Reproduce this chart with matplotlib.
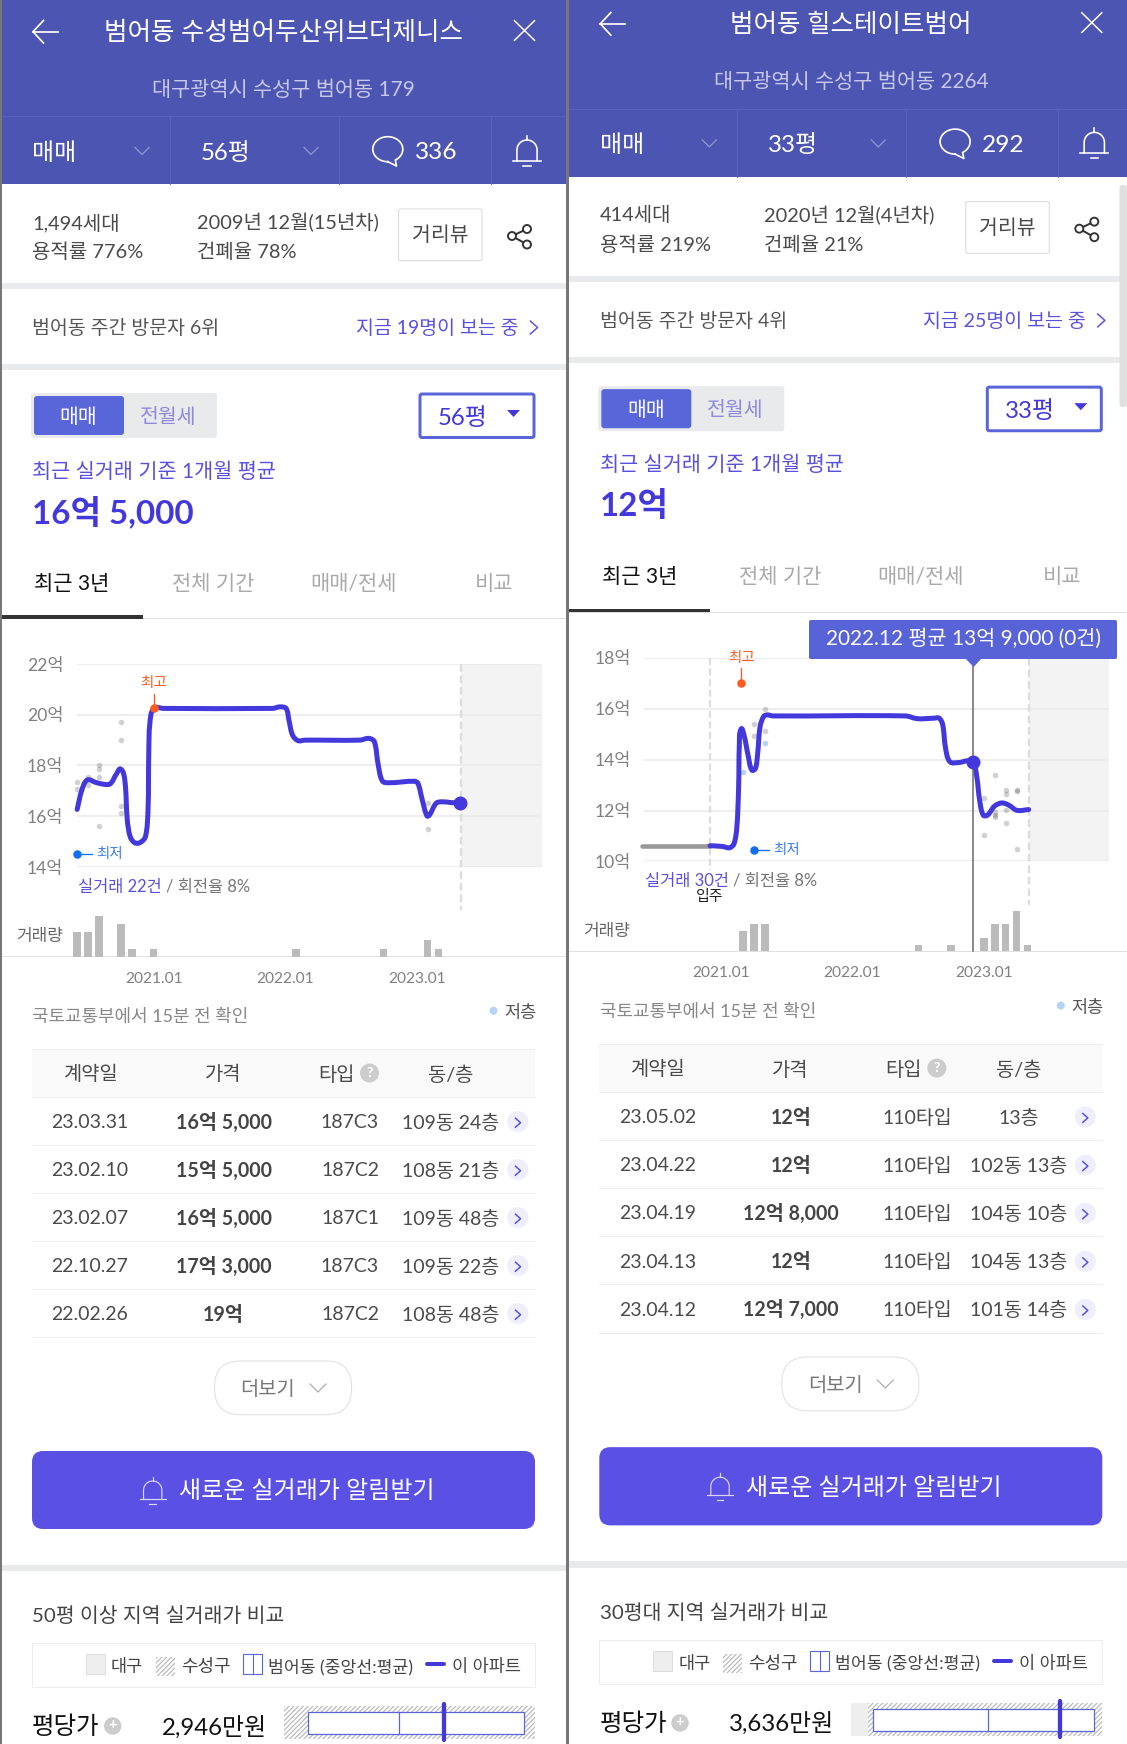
import numpy as np
import matplotlib
matplotlib.use("Agg")
import matplotlib.pyplot as plt
from matplotlib.patches import Rectangle, FancyBboxPatch, Circle, Polygon, PathPatch
from matplotlib.path import Path

FAM = ['Lato', 'Noto Sans CJK KR', 'DejaVu Sans']
plt.rcParams['font.family'] = FAM
plt.rcParams['hatch.linewidth'] = 0.9

W, H = 1127, 1744

# ---- panel 1 data ----
months_a = [-7.0, -6.57, -6.07, -5.34, -4.58, -3.98, -3.42, -3.02, -2.65, -2.42, -2.16, -1.76, -1.26, -0.76,
            -0.53, -0.46, -0.36, 0, 0.9, 10.85, 11.51, 12.08, 12.34, 12.67, 13.17, 13.84, 18.81, 19.64, 20.14,
            20.47, 20.87, 21.47, 23.79, 24.12, 24.52, 24.95, 25.18, 25.78, 26.28, 27.11, 27.97]
prices_a = [16.27, 17.03, 17.43, 17.34, 17.26, 17.28, 17.66, 17.86, 17.43, 15.85, 15.2, 14.96, 14.96, 15.2,
            16.25, 18.48, 19.66, 20.25, 20.25, 20.25, 20.31, 20.25, 19.79, 19.2, 18.98, 19.0, 19.0, 19.07, 18.94,
            18.09, 17.39, 17.32, 17.38, 17.3, 16.64, 16.01, 16.05, 16.51, 16.57, 16.54, 16.52]
deal_x_a = [-7, -7, -6, -6, -5, -5, -5, -5, -3, -3, -3, -3, 25, 25]
deal_y_a = [17.35, 17.06, 17.53, 17.23, 18.0, 17.87, 17.53, 15.63, 19.71, 19.0, 16.4, 16.11, 16.51, 15.51]
vol_x_a = [-7, -6, -5, -3, -2, 0, 13, 21, 25, 26]
vol_n_a = [3, 3, 5, 4, 1, 1, 1, 1, 2, 1]
yticks_a = [14, 16, 18, 20, 22]
rows_a = [("23.03.31", "16억 5,000", "187C3", "109동 24층"),
          ("23.02.10", "15억 5,000", "187C2", "108동 21층"),
          ("23.02.07", "16억 5,000", "187C1", "109동 48층"),
          ("22.10.27", "17억 3,000", "187C3", "109동 22층"),
          ("22.02.26", "19억", "187C2", "108동 48층")]

# ---- panel 2 data ----
months_b = [-1.01, 0.13, 0.78, 1.18, 1.44, 1.6, 1.67, 1.83, 2.09, 2.49, 2.81, 3.14, 3.34, 3.56, 3.89, 4.22, 4.71,
            16.81, 17.95, 19.42, 19.92, 20.24, 20.5, 20.9, 21.71, 22.53, 23.02, 23.35, 23.61, 23.94, 24.33, 24.98,
            25.64, 26.29, 27.01, 28.09]
prices_b = [10.62, 10.59, 10.54, 10.7, 11.36, 12.93, 14.64, 15.21, 14.97, 14.12, 13.59, 13.66, 14.25, 15.3, 15.7,
            15.76, 15.72, 15.72, 15.61, 15.63, 15.63, 15.37, 14.45, 13.92, 13.89, 13.96, 13.92, 13.33, 12.41, 11.82,
            11.82, 12.18, 12.3, 12.21, 12.01, 12.04]
pre_x_b = [-7.2, -1.01]
pre_y_b = [10.62, 10.62]
deal_x_b = [4, 3, 4, 3, 25, 24, 26, 26, 27, 27, 25, 25, 26, 26, 24, 27, 25]
deal_y_b = [16.01, 15.42, 15.13, 14.95, 13.41, 12.51, 12.8, 12.64, 12.8, 12.76, 11.95, 11.82, 12.04, 11.5, 11.03,
            10.49, 11.75]
low_x_b = [4, 2]
low_y_b = [14.64, 13.53]
vol_x_b = [2, 3, 4, 18, 21, 24, 25, 26, 27, 28]
vol_n_b = [3, 4, 4, 1, 1, 2, 4, 4, 6, 1]
yticks_b = [10, 12, 14, 16, 18]
rows_b = [("23.05.02", "12억", "110타입", "13층"),
          ("23.04.22", "12억", "110타입", "102동 13층"),
          ("23.04.19", "12억 8,000", "110타입", "104동 10층"),
          ("23.04.13", "12억", "110타입", "104동 13층"),
          ("23.04.12", "12억 7,000", "110타입", "101동 14층")]

xtick_months = [0, 12, 24]
xtick_labels = ["2021.01", "2022.01", "2023.01"]

HEAD = '#4C55B1'
INK = '#4338DB'
LINK = '#5A50E0'
BTN = '#5966DA'
TXT = '#4a4a4a'

fig = plt.figure(figsize=(W / 100, H / 100), dpi=100, facecolor='white')
ui = fig.add_axes([0, 0, 1, 1], zorder=0)
ui.set_xlim(0, W)
ui.set_ylim(H, 0)
ui.axis('off')


def fs(px):
    return px * 0.72


def lw(px):
    return px * 0.72


def bell(cx, top, bot, color, width=1.5, z=2):
    w = (bot - top) * 0.5
    base = bot - 5
    dome = top + 4
    t = np.linspace(np.pi, 2 * np.pi, 40)
    rx = w * 0.68
    xs = np.r_[cx - rx, cx + rx * np.cos(t), cx + rx]
    ys = np.r_[base, dome + rx * 1.0 + rx * np.sin(t), base]
    ui.plot(xs, ys, color=color, lw=lw(width), zorder=z)
    ui.plot([cx - w * 0.95, cx + w * 0.95], [base, base], color=color, lw=lw(width), zorder=z)
    ui.plot([cx - w * 0.25, cx + w * 0.25], [bot, bot], color=color, lw=lw(width), zorder=z)
    ui.plot([cx, cx], [top, dome], color=color, lw=lw(width), zorder=z)


def chevron_down(x, y, c, s=7, width=1.3):
    ui.plot([x - s, x, x + s], [y - s * .5, y + s * .5, y - s * .5], color=c, lw=lw(width), zorder=2)


def chevron_right(x, y, c, s=4, width=1.3, k=1.8):
    ui.plot([x - s * .9, x + s * .9, x - s * .9], [y - s * k, y, y + s * k], color=c, lw=lw(width), zorder=3)


def smooth_path(xs, ys, sx=10.95, sy=25.4):
    """Bezier curve through the read-off points; no extra values are made up."""
    p = np.column_stack([np.asarray(xs) * sx, np.asarray(ys) * sy])
    n = len(p)
    tan = np.zeros_like(p)
    for i in range(n):
        d = p[min(i + 1, n - 1)] - p[max(i - 1, 0)]
        tan[i] = d / max(np.hypot(*d), 1e-6)
    verts, codes = [p[0]], [Path.MOVETO]
    for i in range(n - 1):
        L = np.hypot(*(p[i + 1] - p[i])) / 3
        verts += [p[i] + tan[i] * L, p[i + 1] - tan[i + 1] * L, p[i + 1]]
        codes += [Path.CURVE4] * 3
    v = np.array(verts) / [sx, sy]
    return Path(v, codes)


def panel(dx, yf, right, title, addr, size, comments, info, visitors, watching, avg, type_x, rows,
          compare_title, pyeong, bar, months, prices, deal_x, deal_y, vol_x, vol_n, yticks,
          hi, lo, deals_txt, low_x=(), low_y=()):
    X = lambda x: x + dx

    def T(x, y, s, px, color=TXT, ha='left', weight='normal', **k):
        xx = x - 1 if ha == 'left' else x
        ui.text(X(xx), yf(y + 1.8), s, fontsize=fs(px), color=color, ha=ha, va='center', fontweight=weight, **k)

    def R(x0, y0, x1, y1, fc, ec='none', l=0, z=1, **k):
        ui.add_patch(Rectangle((X(x0), yf(y0)), x1 - x0, yf(y1) - yf(y0), facecolor=fc, edgecolor=ec, linewidth=l,
                               zorder=z, **k))

    def RR(x0, y0, x1, y1, fc, ec='none', l=0, r=3, z=1):
        ui.add_patch(FancyBboxPatch((X(x0), yf(y0)), x1 - x0, yf(y1) - yf(y0),
                                    boxstyle=f"round,pad=0,rounding_size={r}", facecolor=fc, edgecolor=ec, linewidth=l,
                                    zorder=z))

    rgt = right - dx
    # header
    R(2, -20, rgt, 184, HEAD)
    ui.plot([X(2), X(rgt)], [yf(116.5)] * 2, color='#5A62B9', lw=0.7)
    for vx in (170, 339, 490.5):
        ui.plot([X(vx)] * 2, [yf(116.5), yf(184)], color='#5A62B9', lw=0.7)
    ui.plot([X(33), X(58)], [yf(31.7)] * 2, color='white', lw=lw(1.7))
    ui.plot([X(43.5), X(33), X(43.5)], [yf(20.5), yf(31.7), yf(43)], color='white', lw=lw(1.7))
    ui.plot([X(514.5), X(534.5)], [yf(20.7), yf(40.3)], color='white', lw=lw(1.5))
    ui.plot([X(514.5), X(534.5)], [yf(40.3), yf(20.7)], color='white', lw=lw(1.5))
    T(283, 30.5, title, 25.5, 'white', ha='center')
    T(283.6, 88, addr, 20.8, '#C6C9E9', ha='center')
    T(33.5, 151, "매매", 24, 'white')
    chevron_down(X(142), yf(151), '#9096D2')
    T(202, 151, size, 24, 'white')
    chevron_down(X(311), yf(151), '#9096D2')
    t = np.radians(np.linspace(90, 420, 70))
    bx = X(387.8) + 15 * np.cos(t)
    by = yf(149.2) + 12.5 * np.sin(t)
    ui.plot(np.r_[bx, X(396.5), bx[0]], np.r_[by, yf(166), by[0]], color='white', lw=lw(1.7))
    T(416, 151, comments, 24.5, 'white')
    bell(X(527), yf(136), yf(165.7), 'white', 1.6)

    # info row
    T(33.5, 221, info[0], 20)
    T(33.5, 250, info[1], 20)
    T(198, 221, info[2], 20)
    T(198, 250, info[3], 20)
    RR(398.5, 209, 482, 260.7, 'white', '#dcdcdc', 0.8, 2)
    T(440, 233, "거리뷰", 20.5, ha='center')
    nodes = [(527, 229), (512, 236), (527, 244.5)]
    ui.plot([X(n[0]) for n in nodes], [yf(n[1]) for n in nodes], color='#333', lw=lw(2), zorder=2)
    for n in nodes:
        ui.add_patch(Circle((X(n[0]), yf(n[1])), 4, fc='white', ec='#333', lw=lw(1.9), zorder=3))
    R(2, 283, rgt, 289, '#E9EAEC')

    T(33.5, 326.5, visitors, 19.5, '#555')
    T(357, 326.5, watching, 19.5, LINK)
    chevron_right(X(534), yf(327.5), LINK, 4, 1.5, 1.6)
    R(2, 364, rgt, 370, '#E9EAEC')

    # selector
    RR(31, 393, 217, 438, '#E9EAEC', r=3)
    RR(34, 396, 124, 435, BTN, r=3, z=2)
    T(78.5, 414.5, "매매", 20.5, 'white', ha='center', zorder=3)
    T(168.4, 414.5, "전월세", 20.5, '#8D8ADB', ha='center', zorder=3)
    RR(420, 394, 534, 437.5, 'white', BTN, lw(3), 2)
    T(462.5, 416, size, 24, INK, ha='center', zorder=3)
    ui.add_patch(Polygon([(X(507), yf(410)), (X(520), yf(410)), (X(513.5), yf(417))], fc=INK, ec='none', zorder=3))
    T(33.5, 470, "최근 실거래 기준 1개월 평균", 20.8, LINK)
    T(33.5, 510.5, avg, 33.2, INK, weight='bold')

    # tabs
    T(72, 582, "최근 3년", 21, '#111', ha='center')
    T(212.7, 582, "전체 기간", 21, '#aaa', ha='center')
    T(353.5, 582, "매매/전세", 21, '#aaa', ha='center')
    T(494.5, 582, "비교", 21, '#aaa', ha='center')
    R(2, 618, rgt, 618.8, '#dddddd')
    R(2, 615, 143, 618.5, '#333333', z=2)

    # ---- chart ----
    x0, x1 = X(77), X(542)
    y_top, y_bot = yf(664), yf(867)
    px_per_month = 10.95
    zero_px = X(153.8)
    xlim = ((x0 - zero_px) / px_per_month, (x1 - zero_px) / px_per_month)
    ax = fig.add_axes([x0 / W, 1 - y_bot / H, (x1 - x0) / W, (y_bot - y_top) / H], zorder=2)
    ax.patch.set_alpha(0)
    ax.set_xlim(*xlim)
    ax.set_ylim(yticks[0], yticks[-1])
    for s in ax.spines.values():
        s.set_visible(False)
    ax.set_xticks([])
    ax.set_yticks(yticks)
    ax.set_yticklabels([f"{v}억" for v in yticks], fontsize=fs(17.5), color='#808080')
    ax.tick_params(axis='y', length=0, pad=fs(13.5))
    ax.grid(axis='y', color='#ebebeb', lw=lw(1.6))
    ax.set_axisbelow(True)
    ax.axvspan(28.1, xlim[1], color='#f3f3f3', lw=0, zorder=0)
    frac = lambda py: (y_bot - yf(py)) / (y_bot - y_top)
    xtf = ax.get_xaxis_transform()
    ax.scatter(deal_x, deal_y, s=fs(5.6) ** 2, color='#000000', alpha=.18, lw=0, zorder=3, clip_on=False)
    if len(low_x):
        ax.scatter(low_x, low_y, s=fs(5.6) ** 2, color='#B8D4F5', lw=0, zorder=3)

    ax_v = fig.add_axes([x0 / W, 1 - yf(956.7) / H, (x1 - x0) / W, 40.5 / H], zorder=1)
    ax_v.patch.set_alpha(0)
    ax_v.set_xlim(*xlim)
    ax_v.set_ylim(0, max(vol_n))
    ax_v.bar(vol_x, vol_n, width=0.667, color='#BBBBBB', lw=0, clip_on=False)
    for s in ax_v.spines.values():
        s.set_visible(False)
    ax_v.set_yticks([])
    ax_v.set_xticks(xtick_months)
    ax_v.set_xticklabels(xtick_labels, fontsize=fs(15.5), color='#808080')
    ax_v.tick_params(axis='x', length=0, pad=fs(15))

    ax.plot([28.1, 28.1], [frac(664), frac(910)], transform=xtf, clip_on=False, color='#dddddd', lw=lw(2.4),
            dashes=(3.2, 1.6), zorder=2)

    R(2, 956, rgt, 957.4, '#e0e0e0')
    T(63, 934.5, "거래량", 17, '#666', ha='right')

    ax.add_patch(PathPatch(smooth_path(months, prices), fc='none', ec=INK, lw=lw(5), capstyle='round',
                           joinstyle='round', zorder=5, clip_on=False))
    # highest and lowest markers
    hx, hy, hstem, hlabel = hi
    ax.plot([hx, hx], [frac(hstem), (hy - yticks[0]) / (yticks[-1] - yticks[0])], transform=xtf, color='#FF5A1F',
            lw=lw(1.3), zorder=5)
    ax.plot([hx], [hy], 'o', color='#FF5A1F', ms=fs(8.5), mew=0, zorder=6, clip_on=False)
    T(hlabel[0], hlabel[1], "최고", 14.5, '#FF5A1F', ha='center')
    lx, ly, lline, ltext = lo
    ax.plot([lx, lline], [ly, ly], color='#1170F0', lw=lw(1.3), zorder=5, clip_on=False)
    ax.plot([lx], [ly], 'o', color='#1170F0', ms=fs(8.5), mew=0, zorder=6, clip_on=False)
    T(ltext[0], ltext[1], "최저", 14.5, '#3F7FEF')
    # last-deal summary
    d1 = ui.text(X(78), yf(886.7), deals_txt, fontsize=fs(16.5), color=LINK, ha='left', va='center')
    bb = d1.get_window_extent(fig.canvas.get_renderer())
    ui.text(bb.x1 + 4, yf(886.7), "/ 회전율 8%", fontsize=fs(16.5), color='#777', ha='left', va='center')

    # table
    T(33.5, 1015, "국토교통부에서 15분 전 확인", 18, '#888')
    ui.add_patch(Circle((X(493.5), yf(1010.7)), 4, fc='#B5D3F5', ec='none'))
    T(505, 1011, "저층", 17.5, '#555')
    R(32, 1048.7, 535, 1096.7, '#F9F9F9')
    for ly_ in [1048.7, 1096.7, 1144.7, 1192.7, 1240.7, 1288.7, 1336.7]:
        ui.plot([X(32), X(535)], [yf(ly_)] * 2, color='#efefef', lw=lw(1.1), zorder=2)
    T(90, 1072.5, "계약일", 19.8, ha='center')
    T(223, 1072.5, "가격", 19.8, ha='center')
    T(336.4, 1072.5, "타입", 19.8, ha='center')
    ui.add_patch(Circle((X(369.5), yf(1073)), 9.5, fc='#cccccc', ec='none'))
    T(369.5, 1071.5, "?", 14, 'white', ha='center', weight='bold')
    T(451, 1072.5, "동/층", 19.8, ha='center')
    for i, (d, p, ty, fl) in enumerate(rows):
        y = 1120.7 + 48 * i
        T(90, y, d, 19.5, ha='center')
        T(223.6, y, p, 19.7, '#444', ha='center', weight='bold')
        T(type_x, y, ty, 19.5, ha='center')
        T(451, y, fl, 19.5, ha='center')
        ui.add_patch(Circle((X(518), yf(y + 1)), 10.5, fc='#EEEEFC', ec='none', zorder=2))
        chevron_right(X(518), yf(y + 2), LINK, 2.8, 1.5, 1.6)

    # more button
    RR(214.5, 1361, 351.6, 1414.7, 'white', '#e2e2e2', 0.8, 26)
    T(268, 1387, "더보기", 19.8, '#777', ha='center')
    chevron_down(X(318), yf(1388), '#aaa', 8, 1.2)

    # notify button
    RR(32, 1451, 535, 1529, '#5A50E3', r=11)
    bell(X(152.7), yf(1477), yf(1504), '#D9D6F8', 1.2)
    T(307, 1489.5, "새로운 실거래가 알림받기", 24, 'white', ha='center', zorder=3)
    R(2, 1565, rgt, 1571, '#E9EAEC')

    # compare
    T(33.5, 1614, compare_title, 20.5, '#444')
    R(32, 1643, 535, 1686.7, 'white', '#eeeeee', 0.8)
    R(85.5, 1654, 104.7, 1674, '#EEEEEE', '#dddddd', 0.7)
    T(112, 1665, "대구", 17.5, '#444')
    R(156, 1657, 174.5, 1676, 'white', '#bbbbbb', 0, hatch='///////')
    T(182, 1665, "수성구", 18, '#444')
    R(243, 1654, 262, 1674, 'white', BTN, 0.8)
    ui.plot([X(252.5)] * 2, [yf(1654), yf(1674)], color=BTN, lw=0.8)
    T(269, 1665, "범어동 (중앙선:평균)", 17.2, '#444')
    ui.plot([X(427), X(443.5)], [yf(1664)] * 2, color=INK, lw=lw(4), solid_capstyle='round')
    T(452.7, 1665, "이 아파트", 17.5, '#444')
    T(33, 1725, "평당가", 24.5, '#111')
    ui.add_patch(Circle((X(112.7), yf(1726)), 8.7, fc='#cccccc', ec='none'))
    T(112.7, 1723, "+", 15, 'white', ha='center', weight='bold')
    T(163, 1725, pyeong, 24, '#111')
    so, si, mid, me = bar
    R(283.6, 1706, 534.5, 1738.7, '#EEEEEE')
    R(so, 1706, 534.5, 1738.7, 'white', '#bbbbbb', 0, z=1.1, hatch='///////')
    R(si[0], 1711.7, si[1], 1734.3, 'white', BTN, 0.9, z=1.2)
    ui.plot([X(mid)] * 2, [yf(1711.7), yf(1734.3)], color=BTN, lw=0.9, zorder=1.3)
    ui.plot([X(me)] * 2, [yf(1704), yf(1740)], color=INK, lw=lw(4.3), zorder=1.4, solid_capstyle='round')
    return ax


y1 = lambda y: y
y2 = lambda y: y * 1.00287 - 8
DX = 567.3

fig.canvas.draw()
ax1 = panel(0, y1, 565.5, "범어동 수성범어두산위브더제니스", "대구광역시 수성구 범어동 179", "56평", "336",
            ("1,494세대", "용적률 776%", "2009년 12월(15년차)", "건폐율 78%"),
            "범어동 주간 방문자 6위", "지금 19명이 보는 중", "16억 5,000", 350, rows_a,
            "50평 이상 지역 실거래가 비교", "2,946만원", (283.6, (308, 524), 398.5, 444.4),
            months_a, prices_a, deal_x_a, deal_y_a, vol_x_a, vol_n_a, yticks_a,
            hi=(0, 20.25, 694, (153.8, 681)), lo=(-7, 14.5, -5.68, (97.5, 852.5)),
            deals_txt="실거래 22건")
ax1.plot([months_a[-1]], [prices_a[-1]], 'o', color=INK, ms=fs(14), mew=0, zorder=7, clip_on=False)

ax2 = panel(DX, y2, W, "범어동 힐스테이트범어", "대구광역시 수성구 범어동 2264", "33평", "292",
            ("414세대", "용적률 219%", "2020년 12월(4년차)", "건폐율 21%"),
            "범어동 주간 방문자 4위", "지금 25명이 보는 중", "12억", 350, rows_b,
            "30평대 지역 실거래가 비교", "3,636만원", (300.5, (305.3, 526.4), 420.2, 492.2),
            months_b, prices_b, deal_x_b, deal_y_b, vol_x_b, vol_n_b, yticks_b,
            hi=(1.86, 17.03, 674, (174.4, 662)), lo=(2.98, 10.45, 4.34, (207, 854)),
            deals_txt="실거래 30건", low_x=low_x_b, low_y=low_y_b)

# panel-2 extras
ax2.plot(pre_x_b, pre_y_b, color='#999999', lw=3.3, zorder=4, solid_capstyle='round', clip_on=False)
xt = ax2.get_xaxis_transform()
ax2.plot([-1.0, -1.0], [1.0, -0.04], transform=xt, clip_on=False, color='#dddddd', lw=lw(2.2), dashes=(3.2, 1.6),
         zorder=2)
ax2.text(-1.0, -0.172, "입주", transform=xt, fontsize=fs(15), color='#222', ha='center', va='center', clip_on=False)
ax2.plot([23.02, 23.02], [0.96, -0.438], transform=xt, color='#666666', lw=lw(1.5), clip_on=False, zorder=6)
ax2.plot([23.02], [13.92], 'o', color=INK, ms=fs(14), mew=0, zorder=7)

# tooltip sits above the chart axes
ax_tip = fig.add_axes([0, 0, 1, 1], zorder=3)
ax_tip.set_xlim(0, W)
ax_tip.set_ylim(H, 0)
ax_tip.axis('off')
ax_tip.add_patch(FancyBboxPatch((809, 620), 308, 39, boxstyle="round,pad=0,rounding_size=2", fc='#5763D6', ec='none'))
ax_tip.add_patch(Polygon([(965, 658), (982, 658), (973.6, 667)], fc='#5763D6', ec='none'))
ax_tip.text(963, 639, "2022.12 평균 13억 9,000 (0건)", fontsize=fs(20.8), color='white', ha='center', va='center')

# frame lines and scrollbar
ui.add_patch(Rectangle((0, 0), 1.8, H, fc='#777777', ec='none', zorder=9))
ui.add_patch(Rectangle((565.5, 0), 3, H, fc='#777777', ec='none', zorder=9))
ui.add_patch(FancyBboxPatch((1119.5, 185), 7.5, 222, boxstyle="round,pad=0,rounding_size=3", fc='#E0E0E0', ec='none',
                            zorder=9))

fig.savefig("out.png", dpi=100, facecolor='white')
